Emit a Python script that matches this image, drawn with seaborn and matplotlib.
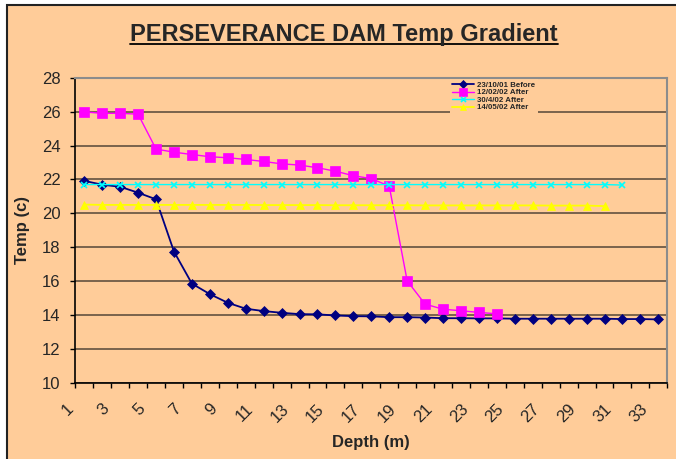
import numpy as np
import pandas as pd
import matplotlib
matplotlib.use("Agg")
import matplotlib.pyplot as plt
import matplotlib.transforms as mtransforms
from matplotlib.patches import Rectangle
from matplotlib.lines import Line2D
import seaborn as sns

# === Data (temperature by depth)
depth = list(range(1, 34))
before_231001 = [21.92, 21.69, 21.57, 21.22, 20.83, 17.75, 15.86, 15.24, 14.73, 14.38,
                 14.24, 14.14, 14.06, 14.05, 13.98, 13.94, 13.93, 13.88, 13.88, 13.86,
                 13.82, 13.82, 13.81, 13.81, 13.79, 13.79, 13.79, 13.79, 13.79, 13.79,
                 13.77, 13.77, 13.75]
after_120202 = [25.98, 25.90, 25.90, 25.85, 23.79, 23.61, 23.47, 23.34, 23.28, 23.18,
                23.06, 22.92, 22.85, 22.69, 22.49, 22.22, 22.05, 21.61, 16.02, 14.65,
                14.35, 14.26, 14.16, 14.08]
after_300402 = [21.70, 21.70, 21.70, 21.70, 21.70, 21.70, 21.70, 21.70, 21.70, 21.70,
                21.70, 21.70, 21.70, 21.70, 21.70, 21.70, 21.70, 21.70, 21.70, 21.70,
                21.70, 21.70, 21.70, 21.70, 21.70, 21.70, 21.70, 21.70, 21.70, 21.70,
                21.67]
after_140502 = [20.52, 20.50, 20.50, 20.50, 20.50, 20.50, 20.50, 20.50, 20.50, 20.50,
                20.49, 20.49, 20.49, 20.49, 20.48, 20.48, 20.48, 20.48, 20.48, 20.47,
                20.47, 20.47, 20.47, 20.47, 20.47, 20.47, 20.46, 20.46, 20.46, 20.43]

series_labels = ["23/10/01 Before", "12/02/02 After", "30/4/02 After", "14/05/02 After"]
x_tick_labels = [str(d) for d in depth if d % 2 == 1]

BG = "#FFCC99"

# === Style
sns.set_style("white")
plt.rcParams["font.family"] = ["Liberation Sans", "DejaVu Sans"]

fig = plt.figure(figsize=(6.76, 4.59), dpi=100)
fig.patch.set_facecolor("white")
# chart area with dark frame on the left/top
fig.add_artist(Rectangle((7 / 676, -0.1), 1.2, 1.1 - 5 / 459, transform=fig.transFigure,
                         facecolor=BG, edgecolor="#222222", linewidth=1.5, zorder=-10))

ax = fig.add_axes([75.3 / 676, 1 - 383 / 459, 592 / 676, 305.3 / 459])
ax.set_facecolor(BG)

# === Series
styles = [
    (before_231001, "#000080", "D", 5.5, 1.3),
    (after_120202, "#FF00FF", "s", 6.5, 1.0),
    (after_300402, "#00FFFF", "x", 4.5, 1.0),
    (after_140502, "#FFFF00", "^", 5.5, 1.3),
]
for (vals, col, mk, ms, lw), lab in zip(styles, series_labels):
    sns.lineplot(x=depth[:len(vals)], y=vals, ax=ax, color=col, marker=mk,
                 markersize=ms, markeredgecolor=col, markeredgewidth=1.2 if mk == "x" else 0.5,
                 linewidth=lw, label=lab)

# === Axes
ax.set_xlim(0.5, 33.5)
ax.set_ylim(10, 28)
ax.set_yticks(range(10, 29, 2))
ax.set_xticks(np.arange(0.5, 34, 1))
ax.set_xticklabels([])
ax.set_xticks([d for d in depth if d % 2 == 1], minor=True)
ax.set_xticklabels(x_tick_labels, minor=True, rotation=45, ha="right", va="top", fontsize=12)
ax.tick_params(axis="x", which="major", length=3.5, width=1, direction="out", color="black", bottom=True)
ax.tick_params(axis="x", which="minor", length=0, pad=13, bottom=True)
ax.tick_params(axis="y", length=3.6, width=1, direction="out", color="black", left=True,
               labelsize=12, pad=7)
shift = mtransforms.ScaledTranslation(-8 / 100, 0, fig.dpi_scale_trans)
for lbl in ax.get_xticklabels(minor=True):
    lbl.set_transform(lbl.get_transform() + shift)

ax.grid(axis="y", color="#6e5a46", linewidth=1.3)
ax.set_axisbelow(True)
for side in ["left", "bottom"]:
    ax.spines[side].set_color("black")
    ax.spines[side].set_linewidth(1.2)
for side in ["top", "right"]:
    ax.spines[side].set_color("#8c8c8c")
    ax.spines[side].set_linewidth(1.5)
ax.set_xlabel("")
ax.set_ylabel("")

leg = ax.legend(loc="upper right", bbox_to_anchor=(0.788, 1.009), frameon=True,
                facecolor=BG, edgecolor="none", framealpha=1, fancybox=False,
                handlelength=2.8, labelspacing=0.0, borderpad=0.3, handletextpad=0.4,
                markerscale=0.8, prop={"weight": "bold", "size": 5.7})

# === Titles
title = fig.text(344 / 676, 1 - 40.7 / 459, "PERSEVERANCE DAM Temp Gradient",
                 ha="center", va="baseline", fontsize=17, fontweight="bold")
fig.text(22 / 676, 1 - 230 / 459, "Temp (c)", rotation=90, ha="center", va="center",
         fontsize=12, fontweight="bold")
fig.text(371 / 676, 1 - 443 / 459, "Depth (m)", ha="center", va="center",
         fontsize=12, fontweight="bold")

# underline the title
fig.canvas.draw()
bb = title.get_window_extent().transformed(fig.transFigure.inverted())
uy = 1 - 43.5 / 459
fig.add_artist(Line2D([bb.x0, bb.x1], [uy, uy], transform=fig.transFigure,
                      color="black", linewidth=1.3))

fig.savefig("out.png", dpi=100, facecolor=fig.get_facecolor())
